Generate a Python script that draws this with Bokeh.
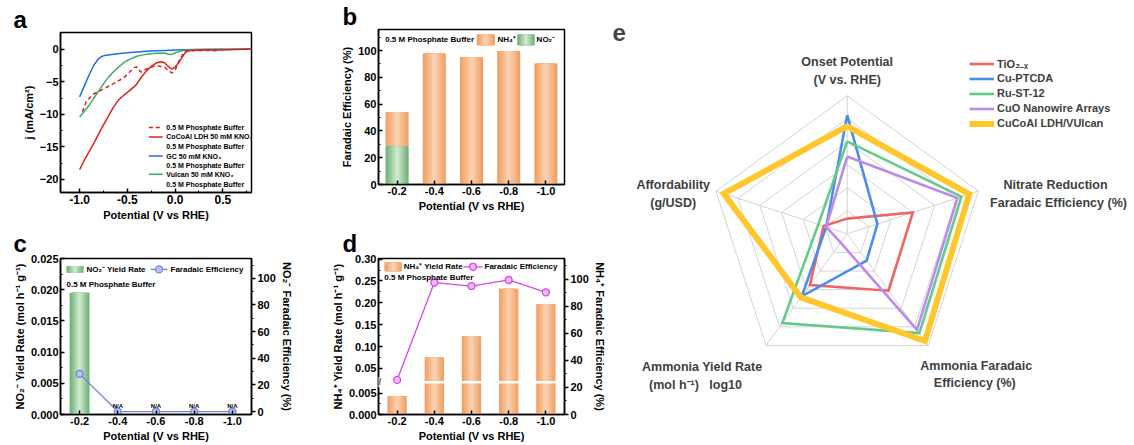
import math
import numpy as np
from bokeh.plotting import figure
from bokeh.layouts import row, column
from bokeh.models import (Range1d, LinearAxis, FixedTicker, Label, Legend, LegendItem, Title,
                          NumeralTickFormatter, CustomJSTickFormatter)
from bokeh.core.properties import value
from bokeh.embed import file_html
from bokeh.resources import INLINE

FONT = "Liberation Sans"

# ---------------- data ----------------
potential_labels = ["-0.2", "-0.4", "-0.6", "-0.8", "-1.0"]

# panel a : LSV curves (V vs RHE, mA/cm2)
gc_x = [-1.0, -0.95, -0.9, -0.85, -0.8, -0.77, -0.74, -0.7, -0.6, -0.5, -0.4, -0.3, -0.2, -0.1, 0.0, 0.1, 0.2, 0.4, 0.6, 0.8]
gc_y = [-7.3, -5.6, -3.9, -2.4, -1.4, -1.1, -0.95, -0.85, -0.68, -0.52, -0.4, -0.3, -0.22, -0.15, -0.1, -0.05, 0.0, 0.02, 0.04, 0.05]

vulcan_x = [-1.0, -0.95, -0.9, -0.85, -0.8, -0.75, -0.7, -0.65, -0.6, -0.55, -0.5, -0.45, -0.4, -0.35, -0.3, -0.25, -0.2, -0.15, -0.1, -0.07, -0.04, 0.0, 0.05, 0.1, 0.2, 0.4, 0.6, 0.8]
vulcan_y = [-10.4, -9.5, -8.6, -7.5, -6.4, -5.3, -4.3, -3.5, -2.8, -2.2, -1.7, -1.35, -1.05, -0.88, -0.75, -0.65, -0.58, -0.55, -0.6, -0.75, -0.8, -0.55, -0.3, -0.12, -0.05, 0.0, 0.03, 0.05]

cocoal_x = [-1.0, -0.95, -0.9, -0.85, -0.8, -0.75, -0.7, -0.65, -0.6, -0.55, -0.5, -0.45, -0.41, -0.36, -0.3, -0.25, -0.2, -0.15, -0.11, -0.08, -0.05, -0.03, 0.0, 0.03, 0.07, 0.1, 0.13, 0.17, 0.3, 0.5, 0.8]
cocoal_y = [-18.5, -17.0, -15.7, -14.4, -13.0, -11.6, -10.3, -9.0, -7.9, -7.2, -6.6, -6.0, -5.5, -4.4, -3.3, -2.6, -2.1, -1.9, -2.05, -2.5, -2.9, -3.0, -2.7, -2.2, -1.3, -0.6, -0.25, -0.15, -0.1, -0.1, 0.05]

buffer_x = [-0.97, -0.93, -0.86, -0.75, -0.65, -0.54, -0.47, -0.43, -0.40, -0.36, -0.30, -0.20, -0.11, -0.06, -0.03, 0.0, 0.05, 0.10, 0.2, 0.3, 0.4, 0.47]
buffer_y = [-9.6, -8.0, -6.9, -6.1, -5.3, -4.4, -3.4, -2.8, -2.7, -3.5, -3.0, -2.5, -2.7, -3.4, -3.6, -3.2, -1.5, -0.3, -0.15, -0.15, -0.2, -0.1]

# panels b-d
nh4_fe = [25.6, 97.7, 95.1, 99.6, 90.4]
no2_fe = [28.3, 0.0, 0.0, 0.0, 0.0]
no2_rate = [0.0195, 0.0, 0.0, 0.0, 0.0]
no2_na = [False, True, True, True, True]
nh4_rate = [0.0043, 0.0754, 0.1236, 0.232, 0.1966]

# panel e : radar (percent of axis maximum)
radar_axes = [["Onset Potential", "(V vs. RHE)"],
              ["Nitrate Reduction", "Faradaic Efficiency (%)"],
              ["Ammonia Faradaic", "Efficiency (%)"],
              ["Ammonia Yield Rate", "(mol h⁻¹)\u00a0\u00a0\u00a0log10"],
              ["Affordability", "(g/USD)"]]
radar_names = ["TiO₂₋ₓ", "Cu-PTCDA", "Ru-ST-12", "CuO Nanowire Arrays", "CuCoAl LDH/VUlcan"]
radar_tio2 = [11, 50, 51, 46, 18]
radar_cuptcda = [86, 23, 24, 56, 16]
radar_rust12 = [67, 87, 89, 80, 22]
radar_cuo = [56, 84, 86, 8, 16]
radar_cucoal = [78, 93, 96, 57, 94]

# ---------------- helpers ----------------
def hex2rgb(h):
    h = h.lstrip('#')
    return tuple(int(h[i:i + 2], 16) for i in (0, 2, 4))

def mix(c1, c2, t):
    a, b = hex2rgb(c1), hex2rgb(c2)
    return "#%02x%02x%02x" % tuple(round(a[i] + (b[i] - a[i]) * t) for i in range(3))

def grad_bars(p, xs, bottoms, tops, width, edge, center, n=9, **kw):
    for k in range(n):
        t = k / (n - 1)
        p.vbar(x=xs, bottom=bottoms, top=tops, width=width * (1 - k / n),
               fill_color=mix(edge, center, t), line_color=None, **kw)

def style_axis(ax, fs="11px", inside=True):
    ax.axis_line_width = 1.5
    ax.axis_line_color = "black"
    ax.major_tick_line_width = 1.5
    ax.minor_tick_line_width = 1
    ax.major_tick_line_color = "black"
    ax.minor_tick_line_color = "black"
    if inside:
        ax.major_tick_in, ax.major_tick_out = 4, 0
        ax.minor_tick_in, ax.minor_tick_out = 2, 0
    else:
        ax.major_tick_in, ax.major_tick_out = 0, 4
        ax.minor_tick_in, ax.minor_tick_out = 0, 2
    ax.major_label_text_font = FONT
    ax.major_label_text_font_style = "bold"
    ax.major_label_text_font_size = fs
    ax.major_label_text_color = "black"
    ax.axis_label_text_font = FONT
    ax.axis_label_text_font_style = "bold"
    ax.axis_label_text_font_size = "11px"
    ax.axis_label_text_color = "black"
    ax.major_label_standoff = 2
    ax.axis_label_standoff = 2

def mkfig(w, h, xr, yr, bl, br, bt, bb):
    p = figure(width=w, height=h, x_range=xr, y_range=yr, output_backend="svg",
               toolbar_location=None, min_border_left=bl, min_border_right=br,
               min_border_top=bt, min_border_bottom=bb)
    p.grid.visible = False
    p.outline_line_color = "black"
    p.outline_line_width = 1.5
    return p

def txt(p, x, y, t, size="8px", align="left", color="black", **kw):
    p.text(x=x, y=y, text=t, text_font=value(FONT), text_font_style="bold",
           text_font_size=size, text_align=align, text_baseline="middle",
           text_color=color, **kw)

def letter(p, t, offset, valign="bottom"):
    p.title = Title(text=t, align="left", offset=offset, standoff=0, text_font=FONT,
                    text_font_style="bold", text_font_size="24px", text_color="black",
                    vertical_align=valign)

RED, BLUE, GREEN = "#E0201E", "#1E6FE0", "#3BAF6B"
OR_EDGE, OR_CEN = "#F0A064", "#FAD0AE"
GR_EDGE, GR_CEN = "#6FB175", "#CDE9CD"
xi = list(range(len(potential_labels)))

def cat_xaxis(p):
    p.xaxis.ticker = FixedTicker(ticks=xi)
    p.xaxis.major_label_overrides = {i: s for i, s in enumerate(potential_labels)}

TOP_H, BOT_H = 224, 220
LEFT_W, MID_W, E_W = 328, 280, 524

# ---------------- panel a ----------------
pa = mkfig(LEFT_W, TOP_H, Range1d(-1.2, 0.8), Range1d(-22, 2.6), 60, 75, 32, 32)
pa.line(gc_x, gc_y, color=BLUE, line_width=1.5)
pa.line(vulcan_x, vulcan_y, color=GREEN, line_width=1.5)
pa.line(cocoal_x, cocoal_y, color=RED, line_width=1.5)
pa.line(buffer_x, buffer_y, color=RED, line_width=1.5, line_dash="4 3")
style_axis(pa.xaxis[0], fs="12px")
style_axis(pa.yaxis[0])
pa.xaxis.ticker = FixedTicker(ticks=[-1.0, -0.5, 0.0, 0.5], minor_ticks=[-0.75, -0.25, 0.25, 0.75])
pa.xaxis.formatter = NumeralTickFormatter(format="0.0")
pa.yaxis.ticker = FixedTicker(ticks=[0, -5, -10, -15, -20], minor_ticks=[-2.5, -7.5, -12.5, -17.5])
pa.xaxis.axis_label = "Potential (V vs RHE)"
pa.yaxis.axis_label = "j (mA/cm²)"
leg_a_y = [-12.0, -13.45, -14.95, -16.4, -17.9, -19.2, -20.7]
leg_a_t = ["0.5 M Phosphate Buffer", "CoCoAl LDH 50 mM KNO₃", "0.5 M Phosphate Buffer",
           "GC 50 mM KNO₃", "0.5 M Phosphate Buffer", "Vulcan 50 mM KNO₃", "0.5 M Phosphate Buffer"]
txt(pa, [-0.092] * 7, leg_a_y, leg_a_t, size="7px")
pa.segment(x0=[-0.275], y0=[leg_a_y[0]], x1=[-0.13], y1=[leg_a_y[0]], color=RED, line_width=1.5, line_dash="4 3")
for yy, c in ((leg_a_y[1], RED), (leg_a_y[3], BLUE), (leg_a_y[5], GREEN)):
    pa.segment(x0=[-0.275], y0=[yy], x1=[-0.13], y1=[yy], color=c, line_width=1.5)
letter(pa, "a", -47)

# ---------------- panel b ----------------
pb = mkfig(MID_W, TOP_H, Range1d(-0.5, 4.5), Range1d(0, 115.7), 48, 39, 27, 40)
grad_bars(pb, xi, no2_fe, [a + b for a, b in zip(no2_fe, nh4_fe)], 0.62, OR_EDGE, OR_CEN)
grad_bars(pb, [x for x, v in zip(xi, no2_fe) if v > 0], [0] * sum(v > 0 for v in no2_fe),
          [v for v in no2_fe if v > 0], 0.62, GR_EDGE, GR_CEN)
style_axis(pb.xaxis[0])
style_axis(pb.yaxis[0])
cat_xaxis(pb)
pb.yaxis.ticker = FixedTicker(ticks=[0, 20, 40, 60, 80, 100], minor_ticks=[10, 30, 50, 70, 90, 110])
pb.xaxis.axis_label = "Potential (V vs RHE)"
pb.yaxis.axis_label = "Faradaic Efficiency (%)"
txt(pb, [-0.32], [108.5], ["0.5 M Phosphate Buffer"])
grad_bars(pb, [2.385], [104], [112], 0.49, OR_EDGE, OR_CEN)
txt(pb, [2.70], [108], ["NH₄⁺"])
grad_bars(pb, [3.465], [104], [112], 0.47, GR_EDGE, GR_CEN)
txt(pb, [3.75], [108], ["NO₂⁻"])
letter(pb, "b", -36)

# ---------------- panel c ----------------
pc = mkfig(LEFT_W, BOT_H, Range1d(-0.5, 4.5), Range1d(0, 0.025), 60, 77, 34, 30)
pc.extra_y_ranges = {"fe": Range1d(-2.2, 114.9)}
grad_bars(pc, [x for x, v in zip(xi, no2_rate) if v > 0], [0] * sum(v > 0 for v in no2_rate),
          [v for v in no2_rate if v > 0], 0.52, GR_EDGE, GR_CEN)
FE_C = "#6C80E0"
pc.line(xi, no2_fe, y_range_name="fe", color=FE_C, line_width=1.3)
pc.scatter(xi, no2_fe, y_range_name="fe", size=7, fill_color="#B9C4F4", line_color=FE_C, line_width=1.3)
na_x = [x for x, f in zip(xi, no2_na) if f]
na_y = [v + 4.5 for v, f in zip(no2_fe, no2_na) if f]
txt(pc, na_x, na_y, ["N/A"] * len(na_x), size="6px", align="center", y_range_name="fe")
style_axis(pc.xaxis[0])
style_axis(pc.yaxis[0])
cat_xaxis(pc)
pc.yaxis.ticker = FixedTicker(ticks=[0, 0.005, 0.01, 0.015, 0.02, 0.025],
                              minor_ticks=[0.0025, 0.0075, 0.0125, 0.0175, 0.0225])
pc.yaxis.formatter = NumeralTickFormatter(format="0.000")
pc.xaxis.axis_label = "Potential (V vs RHE)"
pc.yaxis.axis_label = "NO₂⁻ Yield Rate (mol h⁻¹ g⁻¹)"
axc = LinearAxis(y_range_name="fe", axis_label="NO₂⁻ Faradaic Efficiency (%)")
style_axis(axc, inside=False)
axc.ticker = FixedTicker(ticks=[0, 20, 40, 60, 80, 100], minor_ticks=[10, 30, 50, 70, 90, 110])
pc.add_layout(axc, "right")
grad_bars(pc, [-0.12], [0.0227], [0.0238], 0.45, GR_EDGE, GR_CEN)
txt(pc, [0.18], [0.02325], ["NO₂⁻ Yield Rate"])
pc.segment(x0=[1.86], y0=[0.02325], x1=[2.30], y1=[0.02325], color=FE_C, line_width=1.3)
pc.scatter([2.08], [0.02325], size=7, fill_color="#B9C4F4", line_color=FE_C, line_width=1.3)
txt(pc, [2.38], [0.02325], ["Faradaic Efficiency"])
txt(pc, [-0.343], [0.0209], ["0.5 M Phosphate Buffer"])
letter(pc, "c", -47, valign="top")

# ---------------- panel d ----------------
LOW_K, BRK, HIGH_0, HIGH_K = 4400.0, 33.0, 0.018, 448.0

def dmap(v):
    return v * LOW_K if v * LOW_K <= BRK else BRK + (v - HIGH_0) * HIGH_K

pd_ = mkfig(MID_W, BOT_H, Range1d(-0.5, 4.5), Range1d(0, 160), 48, 41, 34, 30)
pd_.extra_y_ranges = {"fe": Range1d(0, 115.5)}
grad_bars(pd_, xi, [0] * len(xi), [dmap(v) for v in nh4_rate], 0.52, OR_EDGE, OR_CEN)
brk_x = [x for x, v in zip(xi, nh4_rate) if dmap(v) > BRK]
pd_.rect(x=brk_x, y=[BRK] * len(brk_x), width=0.54, height=2.5, height_units="screen",
         fill_color="white", line_color=None)
FE_D = "#D646EE"
pd_.line(xi, nh4_fe, y_range_name="fe", color=FE_D, line_width=1.3)
pd_.scatter(xi, nh4_fe, y_range_name="fe", size=7, fill_color="#F3B8F6", line_color=FE_D, line_width=1.3)
style_axis(pd_.xaxis[0])
style_axis(pd_.yaxis[0])
cat_xaxis(pd_)
pd_.yaxis.ticker = FixedTicker(ticks=[dmap(v) for v in [0, 0.005, 0.05, 0.10, 0.15, 0.20, 0.25, 0.30]],
                               minor_ticks=[dmap(v) for v in [0.0025, 0.075, 0.125, 0.175, 0.225, 0.275]])
pd_.yaxis.formatter = CustomJSTickFormatter(code=f"""
if (tick < {BRK} - 0.01) {{ return (tick / {LOW_K}).toFixed(3); }}
return ({HIGH_0} + (tick - {BRK}) / {HIGH_K}).toFixed(2);
""")
pd_.xaxis.axis_label = "Potential (V vs RHE)"
pd_.yaxis.axis_label = "NH₄⁺ Yield Rate (mol h⁻¹ g⁻¹)"
axd = LinearAxis(y_range_name="fe", axis_label="NH₄⁺ Faradaic Efficiency (%)")
style_axis(axd, inside=False)
axd.ticker = FixedTicker(ticks=[0, 20, 40, 60, 80, 100], minor_ticks=[10, 30, 50, 70, 90, 110])
pd_.add_layout(axd, "right")
pd_.add_layout(Label(x=-0.5, y=BRK, text="//", text_font=FONT, text_font_style="bold",
                     text_font_size="9px", text_align="center", text_baseline="middle",
                     background_fill_color="white"))
grad_bars(pd_, [-0.107], [147], [156], 0.47, OR_EDGE, OR_CEN)
txt(pd_, [0.18], [151.5], ["NH₄⁺ Yield Rate"])
pd_.segment(x0=[1.78], y0=[151.5], x1=[2.30], y1=[151.5], color=FE_D, line_width=1.3)
pd_.scatter([2.04], [151.5], size=7, fill_color="#F3B8F6", line_color=FE_D, line_width=1.3)
txt(pd_, [2.35], [151.5], ["Faradaic Efficiency"])
txt(pd_, [-0.343], [140.3], ["0.5 M Phosphate Buffer"])
letter(pd_, "d", -36, valign="top")

# ---------------- panel e ----------------
R = 138.0
NR = 6
E_H = TOP_H + BOT_H
CX, CY = 846.7 - (LEFT_W + MID_W), 233.3   # radar centre measured from canvas left / top
pe = figure(width=E_W, height=E_H, x_range=Range1d(-CX, E_W - CX), y_range=Range1d(-(E_H - CY), CY),
            min_border=0, output_backend="svg", toolbar_location=None,
            x_axis_type=None, y_axis_type=None)
pe.grid.visible = False
pe.outline_line_color = None
ang = np.deg2rad(90 - 72 * np.arange(5))
ring_xs, ring_ys = [], []
for k in range(1, NR + 1):
    rr = R * k / NR
    ring_xs.append(list(rr * np.cos(ang)) + [rr * np.cos(ang[0])])
    ring_ys.append(list(rr * np.sin(ang)) + [rr * np.sin(ang[0])])
pe.multi_line(ring_xs, ring_ys, line_color="#D3D3D3", line_width=1)
pe.segment(x0=[0] * 5, y0=[0] * 5, x1=list(R * np.cos(ang)), y1=list(R * np.sin(ang)),
           line_color="#D3D3D3", line_width=1)

series = [(radar_tio2, "#F06464", 2.6), (radar_cuptcda, "#4A8DEB", 2.6),
          (radar_rust12, "#62CB8B", 2.6), (radar_cuo, "#BB8AEA", 2.6),
          (radar_cucoal, "#FFC72C", 6)]
items = []
for (vals, col, lw), name in zip(series, radar_names):
    rr = np.array(vals) / 100.0 * R
    xs = list(rr * np.cos(ang)) + [rr[0] * np.cos(ang[0])]
    ys = list(rr * np.sin(ang)) + [rr[0] * np.sin(ang[0])]
    r = pe.line(xs, ys, line_color=col, line_width=lw, line_join="miter")
    items.append(LegendItem(label=name, renderers=[r]))

leg = Legend(items=items, location=(969 - (LEFT_W + MID_W), E_H - 130.8), label_text_font=FONT,
             label_text_font_style="bold", label_text_font_size="11px", label_text_color="#404040",
             glyph_width=25, glyph_height=15, label_height=15, spacing=0, padding=0, margin=0,
             label_standoff=3, border_line_color=None, background_fill_alpha=0)
pe.add_layout(leg)

lab_pos = [(0, 0, 171.6, 154.3), (208.3, 211.3, 48.8, 31.3), (129.0, 127.6, -131.7, -149.2),
           (-145.0, -151.7, -133.2, -150.7), (-174.0, -174.0, 48.8, 31.3)]
for (lx1, lx2, ly1, ly2), (t1, t2) in zip(lab_pos, radar_axes):
    txt(pe, [lx1], [ly1], [t1], size="12.5px", align="center", color="#404040")
    txt(pe, [lx2], [ly2], [t2], size="12.5px", align="center", color="#404040")
pe.add_layout(Label(x=612 - 846.7, y=CY - 32, text="e", text_font=FONT, text_font_style="bold",
                    text_font_size="24px", text_align="left", text_baseline="alphabetic"))

layout = row(column(pa, pc), column(pb, pd_), pe)
open("out.html", "w").write(file_html(layout, INLINE))
